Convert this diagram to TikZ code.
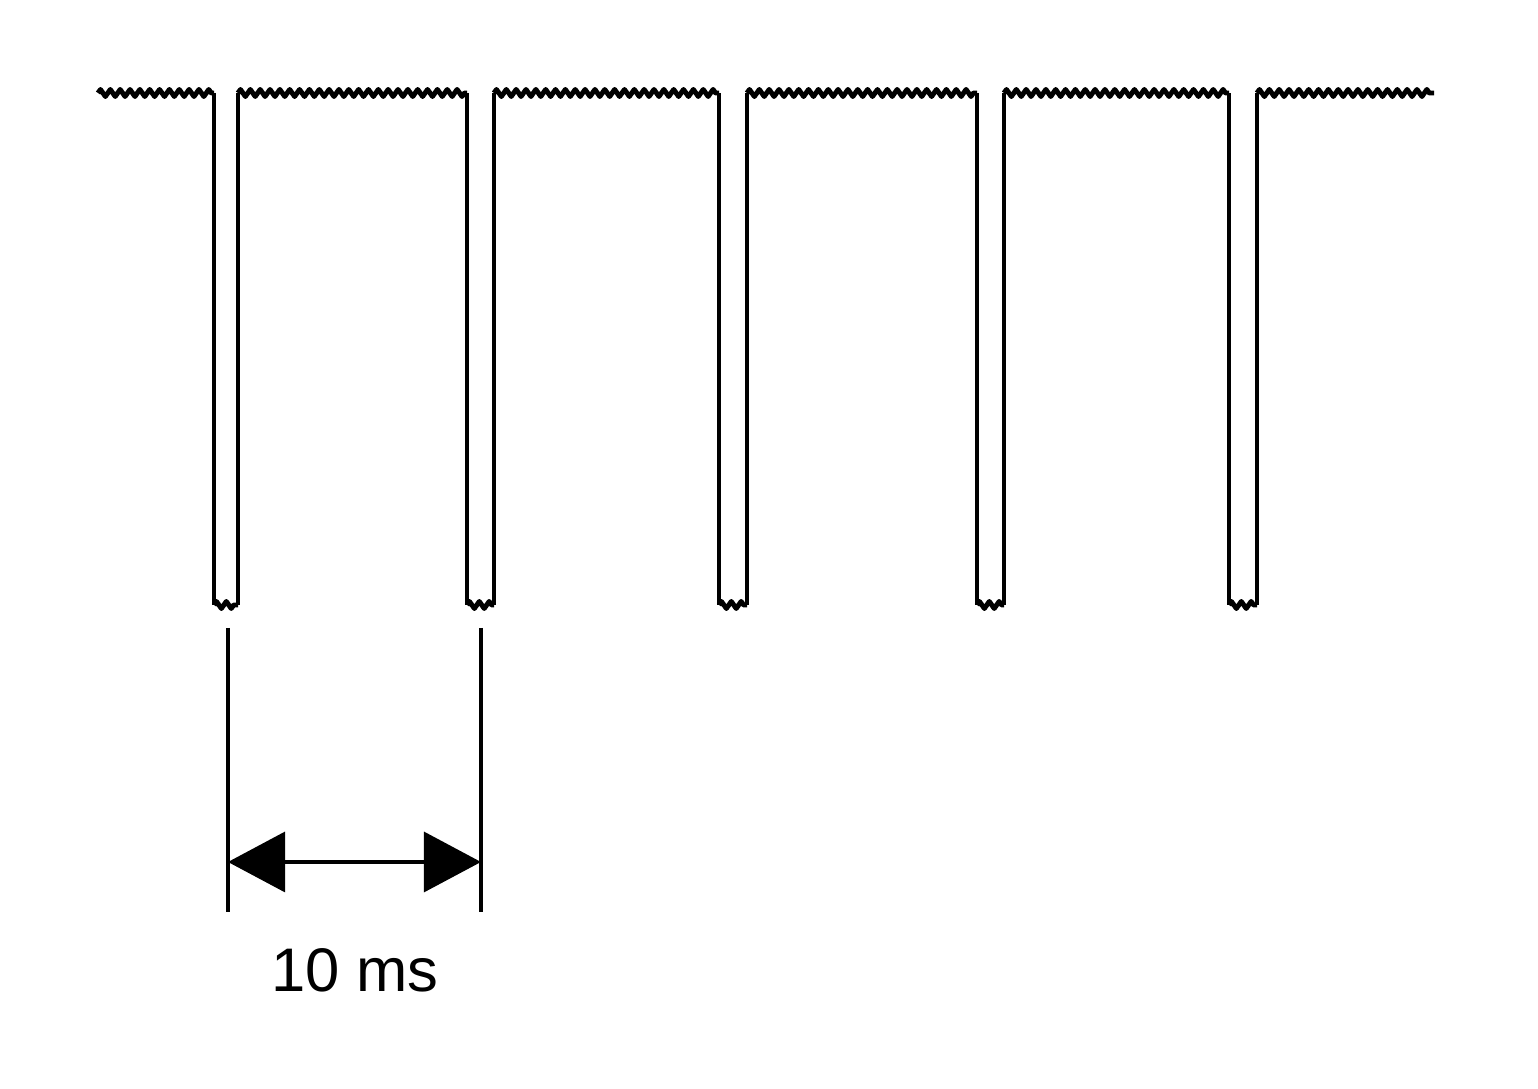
\documentclass[tikz,border=0pt]{standalone}
\usepackage{fontspec}
\setmainfont{Liberation Sans}
\usetikzlibrary{decorations.pathmorphing,arrows.meta}
\begin{document}
\begin{tikzpicture}[x=0.01cm,y=-0.01cm,
  noisy/.style={line width=1.4pt,line join=round,decorate,decoration={zigzag,segment length=2.8pt,amplitude=1pt}},
  edge/.style={line width=0.9pt},
  dim/.style={line width=0.9pt},
  lbl/.style={font=\fontsize{17.5}{20}\selectfont,inner sep=0pt}]
\useasboundingbox (0,0) rectangle (1538,1089);
\fill[white] (0,0) rectangle (1538,1089);
% top noisy baseline segments
\coordinate (s0) at (98,93);
\foreach \a/\b [count=\i] in {214/238,467/494,719/747,977/1004,1229/1257}{
  \coordinate (L\i) at (\a,93);
  \coordinate (R\i) at (\b,93);
  \coordinate (LB\i) at (\a,605);
  \coordinate (RB\i) at (\b,605);
}
\coordinate (e6) at (1434,93);
\draw[noisy] (s0) -- (L1);
\draw[noisy] (R1) -- (L2);
\draw[noisy] (R2) -- (L3);
\draw[noisy] (R3) -- (L4);
\draw[noisy] (R4) -- (L5);
\draw[noisy] (R5) -- (e6);
\foreach \i in {1,...,5}{
  \draw[edge] (L\i) -- (LB\i);
  \draw[edge] (R\i) -- (RB\i);
  \draw[noisy] (LB\i) -- (RB\i);
}
% dimension
\coordinate (d1t) at (228,628);
\coordinate (d1b) at (228,912);
\coordinate (d2t) at (481,628);
\coordinate (d2b) at (481,912);
\draw[dim] (d1t) -- (d1b);
\draw[dim] (d2t) -- (d2b);
\coordinate (a1) at (228,862);
\coordinate (a2) at (481,862);
\draw[dim,{Triangle[length=0.57cm,width=0.6cm]}-{Triangle[length=0.57cm,width=0.6cm]}] (a1) -- (a2);
\node[lbl] (t) at (355,970) {10 ms};
\end{tikzpicture}
\end{document}
